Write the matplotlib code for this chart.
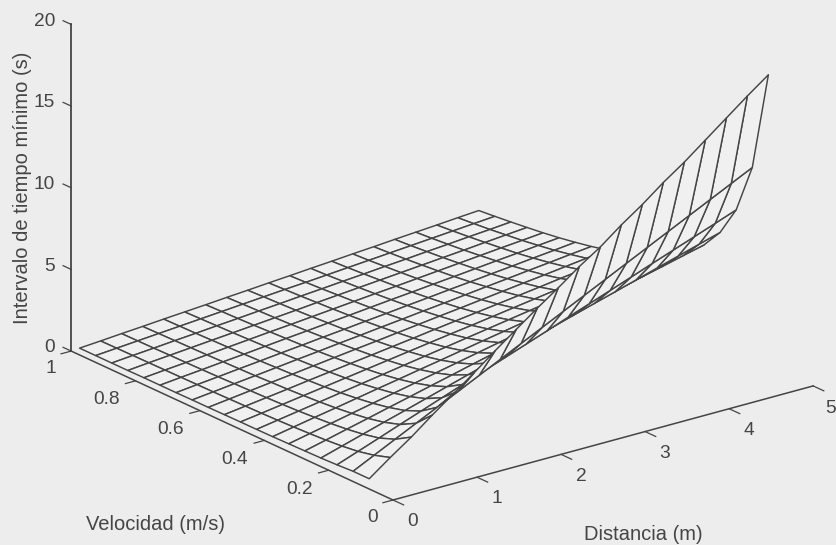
import numpy as np
from matplotlib import pyplot as plt
from mpl_toolkits.mplot3d import proj3d

# distance and velocity grids of the mesh
dist = [0.1, 0.35, 0.6, 0.85, 1.1, 1.35, 1.6, 1.85, 2.1, 2.35, 2.6, 2.85, 3.1, 3.35, 3.6, 3.85, 4.1, 4.35, 4.6, 4.85]
vel = [0.1, 0.15, 0.2, 0.25, 0.3, 0.35, 0.4, 0.45, 0.5, 0.55, 0.6, 0.65, 0.7, 0.75, 0.8, 0.85, 0.9, 0.95, 1.0]

# one row per velocity
t_v010 = [.25, 1.2, 2.1, 3.1, 4.05, 5.0, 6.0, 6.95, 7.9, 8.8, 9.75, 10.6, 11.6, 12.5, 13.5, 14.4, 15.4, 16.4, 17.4, 18.35]
t_v015 = [.25, .88, 1.51, 2.14, 2.77, 3.40, 4.03, 4.66, 5.29, 5.92, 6.55, 7.18, 7.81, 8.44, 9.07, 9.70, 10.33, 10.96, 11.59, 12.22]
t_v020 = [.19, .66, 1.13, 1.61, 2.08, 2.55, 3.02, 3.50, 3.97, 4.44, 4.91, 5.39, 5.86, 6.33, 6.80, 7.28, 7.75, 8.22, 8.69, 9.17]
t_v025 = [.15, .53, .91, 1.29, 1.66, 2.04, 2.42, 2.80, 3.18, 3.55, 3.93, 4.31, 4.69, 5.07, 5.44, 5.82, 6.20, 6.58, 6.96, 7.33]
t_v030 = [.13, .44, .76, 1.07, 1.39, 1.70, 2.02, 2.33, 2.65, 2.96, 3.28, 3.59, 3.91, 4.22, 4.54, 4.85, 5.17, 5.48, 5.80, 6.11]
t_v035 = [.11, .38, .65, .92, 1.19, 1.46, 1.73, 2.00, 2.27, 2.54, 2.81, 3.08, 3.35, 3.62, 3.89, 4.16, 4.43, 4.70, 4.97, 5.24]
t_v040 = [.09, .33, .57, .80, 1.04, 1.28, 1.51, 1.75, 1.98, 2.22, 2.46, 2.69, 2.93, 3.17, 3.40, 3.64, 3.87, 4.11, 4.35, 4.58]
t_v045 = [.08, .29, .50, .71, .92, 1.13, 1.34, 1.55, 1.76, 1.97, 2.18, 2.39, 2.60, 2.81, 3.02, 3.23, 3.44, 3.65, 3.86, 4.07]
t_v050 = [.08, .26, .45, .64, .83, 1.02, 1.21, 1.40, 1.59, 1.78, 1.97, 2.15, 2.34, 2.53, 2.72, 2.91, 3.10, 3.29, 3.48, 3.67]
t_v055 = [.07, .24, .41, .58, .76, .93, 1.10, 1.27, 1.44, 1.61, 1.79, 1.96, 2.13, 2.30, 2.47, 2.64, 2.82, 2.99, 3.16, 3.33]
t_v060 = [.06, .22, .38, .54, .69, .85, 1.01, 1.17, 1.32, 1.48, 1.64, 1.80, 1.95, 2.11, 2.27, 2.43, 2.58, 2.74, 2.90, 3.06]
t_v065 = [.06, .20, .35, .49, .64, .79, .93, 1.08, 1.22, 1.37, 1.51, 1.66, 1.80, 1.95, 2.10, 2.24, 2.39, 2.53, 2.68, 2.82]
t_v070 = [.05, .19, .32, .46, .59, .73, .86, 1.00, 1.13, 1.27, 1.40, 1.54, 1.67, 1.81, 1.94, 2.08, 2.21, 2.35, 2.48, 2.62]
t_v075 = [.05, .18, .30, .43, .55, .68, .81, .93, 1.06, 1.18, 1.31, 1.44, 1.56, 1.69, 1.81, 1.94, 2.07, 2.19, 2.32, 2.44]
t_v080 = [.05, .17, .28, .40, .52, .64, .76, .87, .99, 1.11, 1.23, 1.35, 1.46, 1.58, 1.70, 1.82, 1.94, 2.06, 2.17, 2.29]
t_v085 = [.04, .16, .27, .38, .49, .60, .71, .82, .93, 1.05, 1.16, 1.27, 1.38, 1.49, 1.60, 1.71, 1.82, 1.94, 2.05, 2.16]
t_v090 = [.04, .15, .25, .36, .46, .57, .67, .78, .88, .99, 1.09, 1.20, 1.30, 1.41, 1.51, 1.62, 1.72, 1.83, 1.93, 2.04]
t_v095 = [.04, .14, .24, .34, .44, .54, .64, .74, .84, .94, 1.03, 1.13, 1.23, 1.33, 1.43, 1.53, 1.63, 1.73, 1.83, 1.93]
t_v100 = [.04, .13, .23, .32, .42, .51, .60, .70, .79, .89, .98, 1.08, 1.17, 1.27, 1.36, 1.46, 1.55, 1.64, 1.74, 1.83]

dist_ticks = [0, 1, 2, 3, 4, 5]
vel_ticks = [0, 0.2, 0.4, 0.6, 0.8, 1]
vel_labels = ['0', '0.2', '0.4', '0.6', '0.8', '1']
time_ticks = [0, 5, 10, 15, 20]

times = np.array([t_v010, t_v015, t_v020, t_v025, t_v030, t_v035, t_v040, t_v045, t_v050, t_v055,
                  t_v060, t_v065, t_v070, t_v075, t_v080, t_v085, t_v090, t_v095, t_v100])

bg = '#ededed'
ink = '#454545'
W, H = 836, 545

plt.rcParams['font.family'] = ['Liberation Sans', 'DejaVu Sans']
fig = plt.figure(figsize=(W / 100, H / 100), dpi=100, facecolor=bg)
ax = fig.add_axes([0, 0, H / W, 1], projection='3d')
ax.set_proj_type('ortho')
ax.view_init(elev=20.76, azim=-127.45)
ax.set_box_aspect((1, 1, 0.66))
ax.set_xlim(0, 5)
ax.set_ylim(0, 1)
ax.set_zlim(0, 20)
ax.set_xticks([])
ax.set_yticks([])
ax.set_zticks([])
ax.set_axis_off()
ax.patch.set_visible(False)

X, Y = np.meshgrid(dist, vel)
ax.plot_surface(X, Y, times, rstride=1, cstride=1, color='#f0f0f0', shade=False,
                edgecolor=ink, linewidth=1.05)

# axis lines
ax.plot([0, 5], [0, 0], [0, 0], color=ink, lw=1.1)
ax.plot([0, 0], [0, 1], [0, 0], color=ink, lw=1.1)
ax.plot([0, 0], [1, 1], [0, 20], color=ink, lw=1.3)

# ticks and their labels
for d in dist_ticks:
    ax.plot([d, d], [0, -0.033], [0, 0], color=ink, lw=0.9)
    # the 5 sits right at the picture's edge
    lab_x = d - 0.03 if d == 5 else d
    ax.text(lab_x, -0.062, -0.76, str(d), color=ink, fontsize=13.8, ha='center', va='center')
for v, lab in zip(vel_ticks, vel_labels):
    ax.plot([0, -0.12], [v, v], [0, 0], color=ink, lw=0.9)
    if len(lab) == 1:
        ax.text(-0.24, v, -0.76, lab, color=ink, fontsize=13.8, ha='center', va='center')
    else:
        ax.text(-0.35, v, -0.67, lab, color=ink, fontsize=13.8, ha='center', va='center')
for t in time_ticks:
    ax.plot([0, 0], [1, 1.025], [t, t], color=ink, lw=0.9)
    ax.text(0, 1.05, t - 0.25, str(t), color=ink, fontsize=13.8, ha='right', va='center')

fig.text(156 / W, 1 - 525 / H, 'Velocidad (m/s)', color=ink, fontsize=14.5, ha='center', va='center')
fig.text(643 / W, 1 - 534 / H, 'Distancia (m)', color=ink, fontsize=14.5, ha='center', va='center')
fig.text(23 / W, 1 - 188 / H, 'Intervalo de tiempo mínimo (s)', color=ink, fontsize=14.5,
         rotation=90, ha='center', va='center')


def to_px(x, y, z):
    fig.canvas.draw()
    px, py, _ = proj3d.proj_transform(x, y, z, ax.get_proj())
    return ax.transData.transform((px, py))


# fit the box so the axis corners land where they are in the scan
p1 = to_px(0, 1, 0)
p2 = to_px(5, 0, 0)
size = H * (420 + 322) / (p2[0] - p1[0])
ax.set_position([0, 0, size / W, size / H])
p0 = to_px(0, 0, 0)
ax.set_position([(393 - p0[0]) / W, (H - 500 - p0[1]) / H, size / W, size / H])

fig.savefig('out.png', dpi=100, facecolor=bg)
